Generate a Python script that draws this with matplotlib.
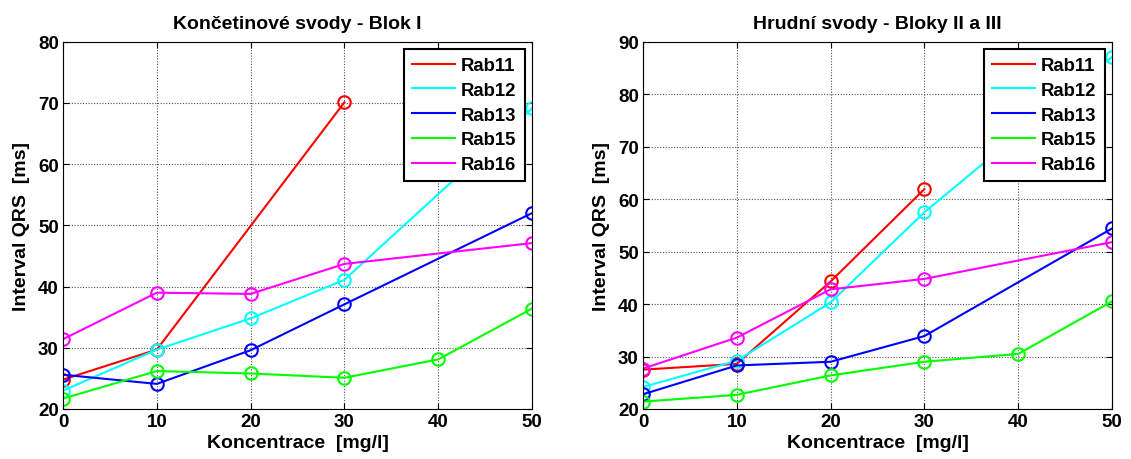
import matplotlib.pyplot as plt

plt.rcParams['font.family'] = ['Liberation Sans', 'DejaVu Sans']
plt.rcParams['font.weight'] = 'bold'

names = ['Rab11', 'Rab12', 'Rab13', 'Rab15', 'Rab16']
colors = ['#ff0000', '#00ffff', '#0000ff', '#00ff00', '#ff00ff']

# Končetinové svody - Blok I
x_left = [
    [0, 10, 30],
    [0, 10, 20, 30, 50],
    [0, 10, 20, 30, 50],
    [0, 10, 20, 30, 40, 50],
    [0, 10, 20, 30, 50],
]
y_left = [
    [24.8, 29.7, 70.1],
    [23.0, 29.7, 34.8, 41.1, 69.1],
    [25.6, 24.1, 29.6, 37.1, 52.0],
    [21.7, 26.2, 25.8, 25.1, 28.1, 36.4],
    [31.4, 39.0, 38.8, 43.7, 47.1],
]

# Hrudní svody - Bloky II a III
x_right = [
    [0, 10, 20, 30],
    [0, 10, 20, 30, 50],
    [0, 10, 20, 30, 50],
    [0, 10, 20, 30, 40, 50],
    [0, 10, 20, 30, 50],
]
y_right = [
    [27.5, 28.6, 44.3, 61.9],
    [24.2, 29.2, 40.3, 57.5, 87.1],
    [22.8, 28.3, 29.0, 33.9, 54.4],
    [21.4, 22.7, 26.4, 29.0, 30.5, 40.5],
    [27.7, 33.6, 42.8, 44.8, 51.8],
]

titles = ['Končetinové svody - Blok I', 'Hrudní svody - Bloky II a III']
ylims = [(20, 80), (20, 90)]

fig = plt.figure(figsize=(11.31, 4.6), dpi=100)
ax1 = fig.add_axes([0.0557, 0.1087, 0.4147, 0.7985])
ax2 = fig.add_axes([0.5685, 0.1087, 0.4147, 0.7985])

for ax, xs, ys, title, ylim in zip([ax1, ax2], [x_left, x_right], [y_left, y_right], titles, ylims):
    for x, y, c, n in zip(xs, ys, colors, names):
        ax.plot(x, y, color=c, lw=1.5, label=n)
        ax.plot(x, y, 'o', color=c, ms=9, mfc='none', mew=1.5)
    ax.set_xlim(0, 50)
    ax.set_ylim(*ylim)
    ax.set_xticks(range(0, 51, 10))
    ax.set_yticks(range(ylim[0], ylim[1] + 1, 10))
    ax.grid(True, ls=(0, (1, 1.5)), color='#555555', lw=0.8)
    ax.tick_params(direction='in', labelsize=13.5, length=4, top=True, right=True, pad=3)
    ax.set_title(title, fontsize=14, fontweight='bold', pad=10)
    ax.set_xlabel('Koncentrace  [mg/l]', fontsize=14, fontweight='bold', labelpad=3)
    ax.set_ylabel('Interval QRS  [ms]', fontsize=14, fontweight='bold', labelpad=6)
    for s in ax.spines.values():
        s.set_linewidth(0.8)
    leg = ax.legend(loc='upper right', fontsize=13.3, fancybox=False, framealpha=1,
                    edgecolor='black', handlelength=2.3, borderaxespad=0.38,
                    labelspacing=0.42, handletextpad=0.35, borderpad=0.45)
    leg.get_frame().set_linewidth(1.5)

fig.savefig('out.png', dpi=100)
